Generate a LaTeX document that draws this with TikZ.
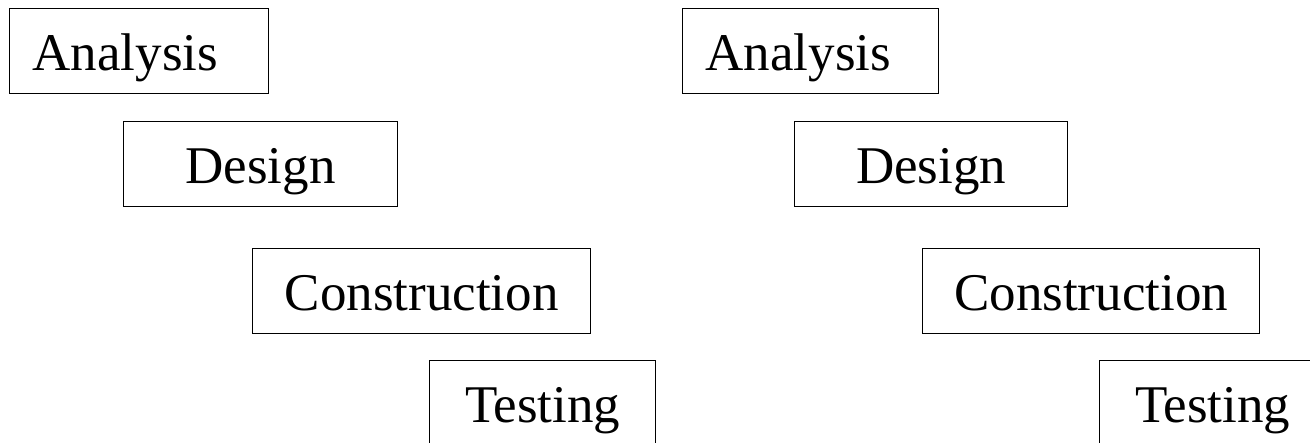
\documentclass[tikz,border=0pt]{standalone}
\usepackage{fontspec}
\setmainfont{Liberation Serif}
\begin{document}
\begin{tikzpicture}[x=1pt,y=1pt,
  box/.style={draw=black, line width=1.3pt, rectangle, anchor=north west,
    minimum height=85pt, inner ysep=0pt, inner xsep=0pt,
    text height=45pt, text depth=6pt,
    font=\fontsize{53}{60}\selectfont},
  lead/.style={inner xsep=23pt, text width=#1, align=left}]
  \clip (0,0) rectangle (1310,-443);
  \fill[white] (0,0) rectangle (1310,-443);
  % first schedule
  \node[box, lead=213pt] (a1) at (9,-8) {Analysis};
  \node[box, minimum width=274pt] (d1) at (123,-121) {Design};
  \node[box, minimum width=338pt] (c1) at (252,-248) {Construction};
  \node[box, minimum width=226pt] (t1) at (429,-360) {Testing};
  % second schedule
  \node[box, lead=210pt] (a2) at (682,-8) {Analysis};
  \node[box, minimum width=273pt] (d2) at (794,-121) {Design};
  \node[box, minimum width=337pt] (c2) at (922,-248) {Construction};
  \node[box, minimum width=226pt] (t2) at (1099,-360) {Testing};
\end{tikzpicture}
\end{document}
